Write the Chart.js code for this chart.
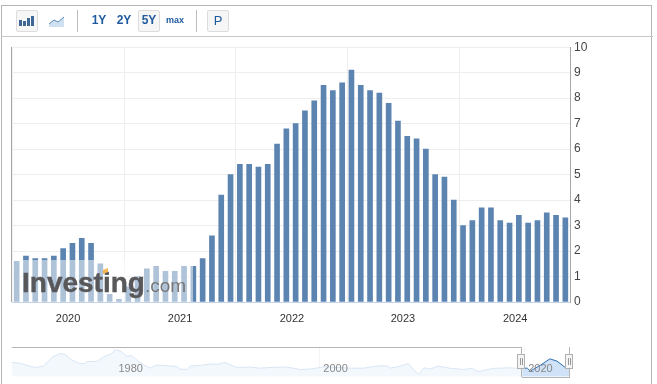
<!DOCTYPE html>
<html>
<head>
<meta charset="utf-8">
<script src="https://cdn.jsdelivr.net/npm/chart.js@4"></script>
<style>
  html, body { margin: 0; padding: 0; background: #fff; }
  body { width: 657px; height: 384px; overflow: hidden; position: relative; font-family: "Liberation Sans", Arial, sans-serif; }
  canvas { position: absolute; }
  .abs { position: absolute; }
  .frame { left: 1px; top: 5px; width: 651px; height: 390px; border: 1px solid #b5b5b5; box-sizing: border-box; }
  .rule { left: 1px; top: 36px; width: 652px; height: 1px; background: #c8c8c8; }
  .btn { top: 10px; width: 22px; height: 22px; box-sizing: border-box; border: 1px solid #dcdcdc; border-radius: 2px; background: #f6f6f6; }
  .sep { top: 10px; width: 1px; height: 22px; background: #bdbdbd; }
  .lbl { top: 10px; height: 22px; line-height: 21px; color: #1f5a9e; font-weight: bold; font-size: 12px; text-align: center; }
  .handle { top: 354px; width: 8px; height: 15px; box-sizing: border-box; border: 1px solid #b0b0b0; background: #f4f4f4; }
  .handle::after { content: ""; position: absolute; left: 2px; top: 3px; width: 1px; height: 7px; border-left: 1px solid #999; border-right: 1px solid #999; }
</style>
</head>
<body>
<canvas id="cpiChart" width="600" height="294" style="left:0;top:36px;width:600px;height:294px"></canvas>
<canvas id="navChart" width="657" height="44" style="left:0;top:340px;width:657px;height:44px"></canvas>

<div class="abs frame"></div>
<div class="abs rule"></div>

<!-- toolbar -->
<div class="abs btn" style="left:16px"></div>
<svg class="abs" style="left:18px;top:14px" width="18" height="14">
  <rect x="1" y="6" width="3" height="6" fill="#3f6795"/><rect x="5" y="7" width="3" height="5" fill="#3f6795"/>
  <rect x="9" y="4" width="3" height="8" fill="#3f6795"/><rect x="13" y="2" width="3" height="10" fill="#3f6795"/>
</svg>
<svg class="abs" style="left:48px;top:15px" width="18" height="13">
  <path d="M1 9 L6 5 L10 7 L16 2 L16 12 L1 12 Z" fill="#cfe0f2"/>
  <path d="M1 9 L6 5 L10 7 L16 2" fill="none" stroke="#5f8ab8"/>
</svg>
<div class="abs sep" style="left:77px"></div>
<div class="abs lbl" style="left:88px;width:22px">1Y</div>
<div class="abs lbl" style="left:113px;width:22px">2Y</div>
<div class="abs btn" style="left:138px"></div>
<div class="abs lbl" style="left:138px;width:22px">5Y</div>
<div class="abs lbl" style="left:164px;width:22px;font-size:9px">max</div>
<div class="abs sep" style="left:196px"></div>
<div class="abs btn" style="left:207px"></div>
<div class="abs lbl" style="left:207px;width:22px;font-weight:normal;font-size:13px">P</div>

<!-- plot left edge and watermark -->
<div class="abs" style="left:11px;top:47px;width:1px;height:255px;background:#a8a8a8"></div>
<div class="abs" style="left:12px;top:260px;width:181px;height:42px;background:rgba(255,255,255,.5)"></div>
<div class="abs" style="left:22px;top:266px;font-size:28px;font-weight:bold;color:#58585a;-webkit-text-stroke:.4px #58585a;line-height:34px;white-space:nowrap">Investing<span style="font-size:19px;font-weight:normal;color:#777;-webkit-text-stroke:0">.com</span></div>
<div class="abs" style="left:103px;top:269px;width:5px;height:4px;background:#f6b84e;transform:skewY(-20deg)"></div>

<!-- navigator chrome -->
<div class="abs" style="left:12px;top:347px;width:510px;height:1px;background:#b5b5b5"></div>
<div class="abs" style="left:522px;top:377px;width:48px;height:1px;background:#b5b5b5"></div>
<div class="abs" style="left:521px;top:347px;width:1px;height:30px;background:#b5b5b5"></div>
<div class="abs" style="left:569px;top:347px;width:1px;height:30px;background:#b5b5b5"></div>
<div class="abs handle" style="left:517px"></div>
<div class="abs handle" style="left:565px"></div>

<script>
// monthly bars, oldest first
const months = [
  "Jun 19", "Jul 19", "Aug 19", "Sep 19", "Oct 19", "Nov 19", "Dec 19",
  "Jan 20", "Feb 20", "Mar 20", "Apr 20", "May 20", "Jun 20", "Jul 20", "Aug 20", "Sep 20", "Oct 20", "Nov 20", "Dec 20",
  "Jan 21", "Feb 21", "Mar 21", "Apr 21", "May 21", "Jun 21", "Jul 21", "Aug 21", "Sep 21", "Oct 21", "Nov 21", "Dec 21",
  "Jan 22", "Feb 22", "Mar 22", "Apr 22", "May 22", "Jun 22", "Jul 22", "Aug 22", "Sep 22", "Oct 22", "Nov 22", "Dec 22",
  "Jan 23", "Feb 23", "Mar 23", "Apr 23", "May 23", "Jun 23", "Jul 23", "Aug 23", "Sep 23", "Oct 23", "Nov 23", "Dec 23",
  "Jan 24", "Feb 24", "Mar 24", "Apr 24", "May 24"
];
const values = [
  1.6, 1.8, 1.7, 1.7, 1.8, 2.1, 2.3,
  2.5, 2.3, 1.5, 0.3, 0.1, 0.6, 1.0, 1.3, 1.4, 1.2, 1.2, 1.4,
  1.4, 1.7, 2.6, 4.2, 5.0, 5.4, 5.4, 5.3, 5.4, 6.2, 6.8, 7.0,
  7.5, 7.9, 8.5, 8.3, 8.6, 9.1, 8.5, 8.3, 8.2, 7.8, 7.1, 6.5,
  6.4, 6.0, 5.0, 4.9, 4.0, 3.0, 3.2, 3.7, 3.7, 3.2, 3.1, 3.4,
  3.1, 3.2, 3.5, 3.4, 3.3
];
const yearLabels = ["2020", "2021", "2022", "2023", "2024"];
const yearTicks = [5.53, 17.57, 29.6, 41.53, 53.6];
const yTicks = [0, 1, 2, 3, 4, 5, 6, 7, 8, 9, 10];

// navigator history
const navYears = [
  1970.0, 1970.9, 1971.8, 1972.4, 1973.1, 1973.9, 1974.7, 1975.2, 1975.8, 1976.6,
  1977.1, 1977.3, 1978.3, 1978.9, 1979.7, 1980.2, 1980.7, 1981.2, 1981.7, 1982.2,
  1982.8, 1983.5, 1984.1, 1985.1, 1986.1, 1986.4, 1987.1, 1987.4, 1988.4, 1989.3,
  1990.0, 1990.8, 1991.9, 1993.2, 1994.2, 1995.4, 1996.8, 1998.1, 1999.1, 2000.6,
  2003.0, 2004.3, 2005.9, 2006.7, 2006.9, 2007.7, 2008.7, 2009.2, 2009.7, 2010.2,
  2010.8, 2011.6, 2012.8, 2014.1, 2014.9, 2015.5, 2017.0, 2018.6, 2019.3, 2019.8,
  2020.3, 2020.6, 2021.6, 2022.5, 2023.2, 2024.0, 2024.4
];
const navValues = [
  7.7, 7.1, 5.5, 5.0, 5.7, 10.4, 12.5, 12.0, 9.1, 7.0,
  7.1, 8.2, 8.2, 10.5, 12.5, 14.6, 13.4, 11.1, 11.3, 8.9,
  6.6, 4.6, 6.3, 5.9, 5.5, 4.1, 3.9, 5.7, 6.1, 6.8,
  6.6, 7.7, 5.0, 5.2, 4.6, 5.0, 5.2, 3.9, 4.1, 5.4,
  4.6, 4.6, 5.9, 5.7, 4.6, 5.4, 7.1, 3.6, 1.3, 4.8,
  4.1, 5.7, 4.5, 3.9, 4.5, 2.7, 4.5, 4.8, 4.5, 4.6,
  4.6, 3.0, 6.3, 9.6, 8.4, 5.0, 4.8
];
const navLabelYears = [1980, 2000, 2020];
const rangeStart = 2019.8;

Chart.defaults.font.family = '"Liberation Sans", Arial, sans-serif';
Chart.defaults.animation = false;

new Chart(document.getElementById("cpiChart"), {
  type: "bar",
  data: {
    labels: months,
    datasets: [
      {
        data: values.map((v, i) => ({ x: i, y: v })),
        backgroundColor: "#5c84b1",
        barThickness: 5,
      },
    ],
  },
  options: {
    responsive: false,
    layout: { padding: { left: 12, top: 2, right: 0, bottom: 0 } },
    plugins: { legend: { display: false }, tooltip: { enabled: false } },
    scales: {
      x: {
        type: "linear",
        min: -0.5,
        max: 59.5,
        offset: false,
        afterFit: (s) => { s.height = 28; },
        afterBuildTicks: (s) => { s.ticks = yearTicks.map((v) => ({ value: v })); },
        grid: { color: "#eeeeee", drawTicks: false },
        border: { color: "#c5d3e6" },
        ticks: {
          color: "#333333",
          font: { size: 11 },
          padding: 10,
          maxRotation: 0,
          autoSkip: false,
          callback: (v) => yearLabels[yearTicks.indexOf(v)],
        },
      },
      y: {
        position: "right",
        min: 0,
        max: 10,
        afterFit: (s) => { s.width = 30; },
        afterBuildTicks: (s) => { s.ticks = yTicks.map((v) => ({ value: v })); },
        grid: { color: "#eeeeee", drawTicks: false },
        border: { color: "#a8a8a8" },
        ticks: { color: "#444444", font: { size: 12 }, padding: 4 },
      },
    },
  },
});

const navPoints = navYears.map((y, i) => ({ x: y, y: navValues[i] }));

new Chart(document.getElementById("navChart"), {
  type: "line",
  data: {
    datasets: [
      {
        data: navPoints.filter((p) => p.x <= rangeStart),
        borderColor: "#d8e6f4",
        borderWidth: 1,
        backgroundColor: "#f3f8fd",
        fill: "origin",
        pointRadius: 0,
      },
      {
        data: navPoints.filter((p) => p.x >= rangeStart),
        borderColor: "#2f6fb0",
        borderWidth: 1,
        backgroundColor: "#cfe2f8",
        fill: "origin",
        pointRadius: 0,
      },
    ],
  },
  options: {
    responsive: false,
    layout: { padding: { left: 12, top: 7, right: 87.7, bottom: 7.3 } },
    plugins: { legend: { display: false }, tooltip: { enabled: false } },
    scales: {
      x: {
        type: "linear",
        min: 1970,
        max: 2024.4,
        afterFit: (s) => { s.height = 0; },
        afterBuildTicks: (s) => { s.ticks = navLabelYears.map((v) => ({ value: v })); },
        grid: { color: "#f4f4f4", drawTicks: false },
        border: { display: false },
        ticks: {
          color: "#888888",
          font: { size: 11 },
          align: "start",
          labelOffset: 4,
          mirror: true,
          padding: 1,
          z: 1,
          maxRotation: 0,
          autoSkip: false,
          callback: (v) => String(v),
        },
      },
      y: { display: false, min: 0, max: 16 },
    },
  },
});
</script>
</body>
</html>
